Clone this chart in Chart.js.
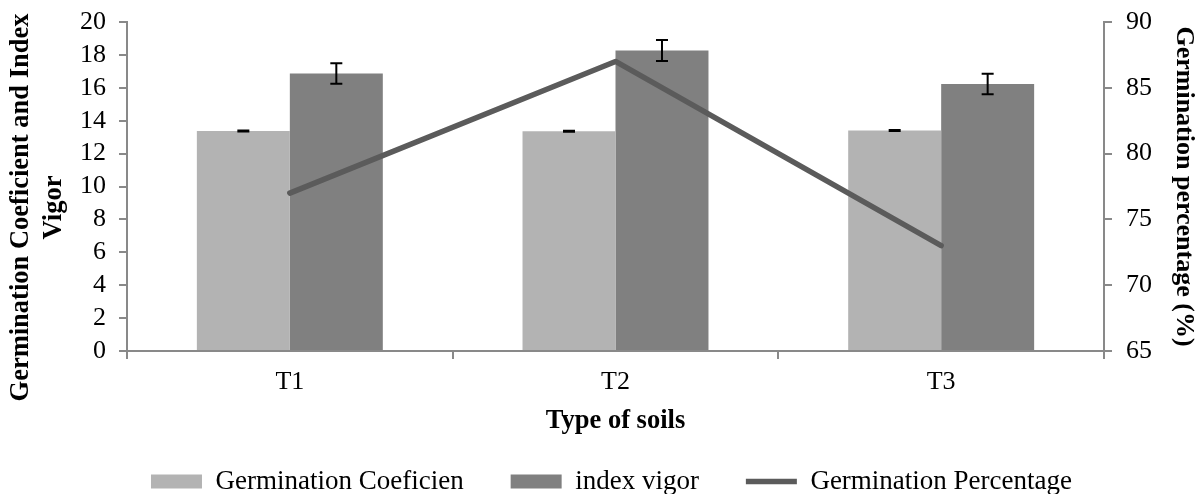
<!DOCTYPE html>
<html>
<head>
<meta charset="utf-8">
<title>Germination by soil type</title>
<script src="https://cdn.jsdelivr.net/npm/chart.js@4/dist/chart.umd.min.js"></script>
<style>
  html, body { margin: 0; padding: 0; background: #ffffff; }
  #wrap { width: 1201px; height: 494px; position: relative; }
</style>
</head>
<body>
<div id="wrap"><canvas id="chart" width="1201" height="494"></canvas></div>
<script>
// Soil treatments
const categories = ['T1', 'T2', 'T3'];

// Germination coefficient (left axis) with standard error
const coefValues = [13.37, 13.36, 13.40];
const coefErrors = [0.03, 0.03, 0.03];

// Vigor index (left axis) with standard error
const vigorValues = [16.87, 18.27, 16.23];
const vigorErrors = [0.63, 0.64, 0.62];

// Germination percentage (right axis)
const germPercent = [77, 87, 73];

// Axis ranges
const leftAxis = { min: 0, max: 20, step: 2 };
const rightAxis = { min: 65, max: 90, step: 5 };

// Left axis title, two lines
const leftTitleLines = ['Germination Coeficient and Index', 'Vigor'];

const serif = "'Liberation Serif', 'Times New Roman', serif";
const axisGray = '#898989';

// Draws vertical error bars with caps on top of bar datasets
const errorBarPlugin = {
  id: 'errorBars',
  afterDatasetsDraw(chart) {
    const ctx = chart.ctx;
    chart.data.datasets.forEach((ds, i) => {
      if (!ds.errors) return;
      const meta = chart.getDatasetMeta(i);
      if (meta.hidden) return;
      const yScale = chart.scales[ds.yAxisID || 'y'];
      meta.data.forEach((el, j) => {
        const v = ds.data[j];
        const e = ds.errors[j];
        const yTop = yScale.getPixelForValue(v + e);
        const yBot = yScale.getPixelForValue(v - e);
        const x = el.x;
        const cap = 6;
        ctx.save();
        ctx.strokeStyle = '#000000';
        ctx.lineWidth = 2;
        ctx.beginPath();
        ctx.moveTo(x, yTop); ctx.lineTo(x, yBot);
        ctx.moveTo(x - cap, yTop); ctx.lineTo(x + cap, yTop);
        ctx.moveTo(x - cap, yBot); ctx.lineTo(x + cap, yBot);
        ctx.stroke();
        ctx.restore();
      });
    });
  }
};

// Rotated two-line title for the left axis, set slightly below the plot centre
const leftTitlePlugin = {
  id: 'leftTitle',
  afterDraw(chart) {
    const ctx = chart.ctx;
    const area = chart.chartArea;
    const cy = (area.top + area.bottom) / 2 + 21;
    const lineGap = 33;
    ctx.save();
    ctx.fillStyle = '#000000';
    ctx.font = 'bold 26.5px ' + serif;
    ctx.textAlign = 'center';
    ctx.textBaseline = 'middle';
    leftTitleLines.forEach((line, k) => {
      ctx.save();
      ctx.translate(21 + k * lineGap, cy);
      ctx.rotate(-Math.PI / 2);
      ctx.fillText(line, 0, 0);
      ctx.restore();
    });
    ctx.restore();
  }
};

const ctx = document.getElementById('chart').getContext('2d');
new Chart(ctx, {
  data: {
    labels: categories,
    datasets: [
      {
        type: 'bar',
        label: 'Germination Coeficien',
        data: coefValues,
        errors: coefErrors,
        backgroundColor: '#b3b3b3',
        borderWidth: 0,
        yAxisID: 'y',
        order: 2,
        categoryPercentage: 0.571,
        barPercentage: 1.0
      },
      {
        type: 'bar',
        label: 'index vigor',
        data: vigorValues,
        errors: vigorErrors,
        backgroundColor: '#808080',
        borderWidth: 0,
        yAxisID: 'y',
        order: 2,
        categoryPercentage: 0.571,
        barPercentage: 1.0
      },
      {
        type: 'line',
        label: 'Germination Percentage',
        data: germPercent,
        borderColor: '#5b5b5b',
        backgroundColor: '#5b5b5b',
        borderWidth: 5.5,
        borderCapStyle: 'round',
        borderJoinStyle: 'round',
        pointRadius: 0,
        pointHoverRadius: 0,
        tension: 0,
        fill: false,
        yAxisID: 'y1',
        order: 1
      }
    ]
  },
  options: {
    responsive: false,
    animation: false,
    devicePixelRatio: 1,
    layout: { padding: { top: 22, left: 22, right: 0, bottom: 0 } },
    plugins: {
      tooltip: { enabled: false },
      legend: {
        position: 'bottom',
        maxHeight: 73,
        labels: {
          usePointStyle: true,
          pointStyleWidth: 51,
          boxHeight: 14,
          padding: 47,
          color: '#000000',
          font: { family: serif, size: 27 },
          generateLabels(chart) {
            const items = Chart.defaults.plugins.legend.labels.generateLabels(chart);
            items.forEach(it => {
              const ds = chart.data.datasets[it.datasetIndex];
              it.pointStyle = ds.type === 'line' ? 'line' : 'rect';
            });
            items.sort((a, b) => a.datasetIndex - b.datasetIndex);
            return items;
          }
        }
      }
    },
    scales: {
      x: {
        type: 'category',
        offset: true,
        grid: {
          offset: true,
          drawOnChartArea: false,
          drawTicks: true,
          tickLength: 8,
          color: axisGray,
          lineWidth: 2
        },
        border: { display: true, color: axisGray, width: 2 },
        ticks: {
          color: '#000000',
          padding: 8,
          font: { family: serif, size: 26, lineHeight: 1.2 }
        },
        title: {
          display: true,
          text: 'Type of soils',
          color: '#000000',
          font: { family: serif, size: 26.5, weight: 'bold', lineHeight: 1.2 },
          padding: { top: 0, bottom: -15.9 }
        },
        afterFit(scale) { scale.height = 70; }
      },
      y: {
        type: 'linear',
        position: 'left',
        min: leftAxis.min,
        max: leftAxis.max,
        grid: {
          drawOnChartArea: false,
          drawTicks: true,
          tickLength: 8,
          color: axisGray,
          lineWidth: 2
        },
        border: { display: true, color: axisGray, width: 2 },
        ticks: {
          stepSize: leftAxis.step,
          autoSkip: false,
          color: '#000000',
          padding: 13,
          font: { family: serif, size: 26 }
        },
        title: { display: false },
        afterFit(scale) {
          scale.width = 105;
          scale.paddingTop = 0;
          scale.paddingBottom = 0;
        }
      },
      y1: {
        type: 'linear',
        position: 'right',
        min: rightAxis.min,
        max: rightAxis.max,
        grid: {
          drawOnChartArea: false,
          drawTicks: true,
          tickLength: 8,
          color: axisGray,
          lineWidth: 2
        },
        border: { display: true, color: axisGray, width: 2 },
        ticks: {
          stepSize: rightAxis.step,
          autoSkip: false,
          color: '#000000',
          padding: 14,
          font: { family: serif, size: 26 }
        },
        title: {
          display: true,
          text: 'Germination percentage (%)',
          color: '#000000',
          font: { family: serif, size: 26, weight: 'bold', lineHeight: 1.2 },
          padding: { top: 1.5, bottom: 0 }
        },
        afterFit(scale) {
          scale.width = 97;
          scale.paddingTop = 0;
          scale.paddingBottom = 0;
        }
      }
    }
  },
  plugins: [errorBarPlugin, leftTitlePlugin]
});
</script>
</body>
</html>
